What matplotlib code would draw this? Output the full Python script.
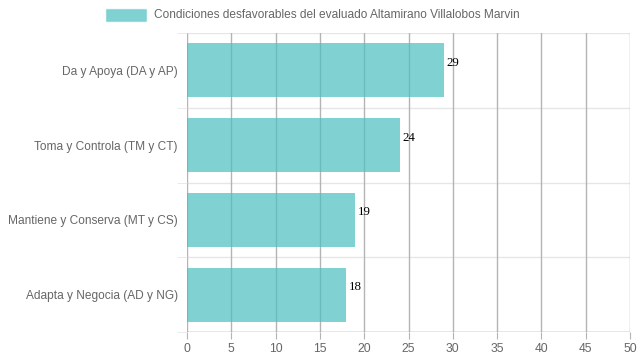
import numpy as np
import matplotlib
matplotlib.use("Agg")
from matplotlib import pyplot as plt
from matplotlib.patches import Rectangle

categories = ["Da y Apoya (DA y AP)", "Toma y Controla (TM y CT)",
              "Mantiene y Conserva (MT y CS)", "Adapta y Negocia (AD y NG)"]
values = [29, 24, 19, 18]
x_ticks = [0, 5, 10, 15, 20, 25, 30, 35, 40, 45, 50]
legend_label = "Condiciones desfavorables del evaluado Altamirano Villalobos Marvin"

W, H = 639, 360
fig = plt.figure(figsize=(W / 100, H / 100), dpi=100)
ax = fig.add_axes([187 / W, 1 - 332 / H, (630 - 187) / W, (332 - 33) / H])

bar_face = (75 / 255, 192 / 255, 192 / 255, 0.7)
y = np.arange(len(categories))
ax.barh(y, values, height=0.72, color=bar_face, linewidth=0, zorder=2)

ax.set_xlim(0, 50)
ax.set_ylim(len(categories) - 0.5, -0.5)
ax.set_xticks(x_ticks)
ax.set_xticklabels([str(t) for t in x_ticks])
ax.set_yticks(y)
ax.set_yticklabels(categories)

# vertical grid
for t in x_ticks:
    ax.axvline(t, color="#b4b4b4", lw=1, zorder=1)
# horizontal boundaries
for b in np.arange(-0.5, len(categories), 1.0):
    ax.axhline(b, color="#e6e6e6", lw=1, zorder=0)
ax.set_yticks(np.arange(-0.5, len(categories), 1.0), minor=True)

for s in ax.spines.values():
    s.set_visible(False)
ax.axhline(len(categories) - 0.5, color="#9a9a9a", lw=1, zorder=3)

ax.tick_params(axis="x", length=5, color="#b4b4b4", labelcolor="#666666", labelsize=8.7, pad=3)
ax.tick_params(axis="y", which="major", length=0, labelcolor="#666666", labelsize=8.6, pad=6.5)
ax.tick_params(axis="y", which="minor", length=7, color="#e6e6e6")
for lab in ax.get_xticklabels() + ax.get_yticklabels():
    lab.set_fontfamily("Liberation Sans")

for yi, v in zip(y, values):
    ax.text(v + 0.3, yi - 0.1, str(v), ha="left", va="center",
            fontsize=9.3, family="Liberation Serif", color="black", zorder=4)

# legend
fig.patches.append(Rectangle((106 / W, 1 - 21 / H), 40 / W, 12 / H, transform=fig.transFigure,
                             facecolor=bar_face, edgecolor=(75 / 255, 192 / 255, 192 / 255, 0.3), lw=1))
fig.text(154 / W, 1 - 15 / H, legend_label, ha="left", va="center", fontsize=8.6,
         family="Liberation Sans", color="#666666")

fig.savefig("out.png", dpi=100)
